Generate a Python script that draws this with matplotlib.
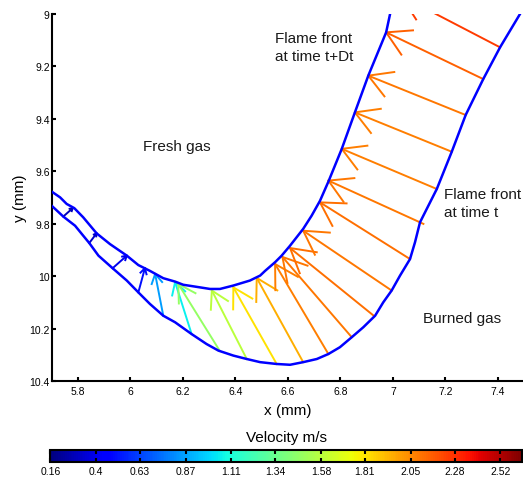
import numpy as np
import matplotlib
matplotlib.use('Agg')
import matplotlib.pyplot as plt
from matplotlib import cm, colors

plt.rcParams['font.family'] = ['Liberation Sans', 'DejaVu Sans']

# Frente de llama en t (curva exterior, lado gas quemado)
front_t_x = [5.700, 5.744, 5.789, 5.820, 5.843, 5.878, 5.932, 5.986, 6.030, 6.074,
             6.125, 6.170, 6.233, 6.290, 6.335, 6.392, 6.443, 6.494, 6.557, 6.608,
             6.658, 6.710, 6.754, 6.798, 6.843, 6.887, 6.932, 6.963, 6.995, 7.027,
             7.065, 7.084, 7.103, 7.167, 7.224, 7.277, 7.344, 7.408, 7.484, 7.52]
front_t_y = [9.731, 9.772, 9.807, 9.845, 9.873, 9.921, 9.969, 10.016, 10.061, 10.105,
             10.150, 10.175, 10.220, 10.258, 10.283, 10.302, 10.315, 10.327, 10.334, 10.337,
             10.327, 10.315, 10.296, 10.270, 10.232, 10.194, 10.150, 10.099, 10.054, 9.997,
             9.934, 9.870, 9.794, 9.667, 9.525, 9.385, 9.248, 9.127, 9.000, 8.93]

# Frente de llama en t+Dt (curva interior, lado gas fresco)
front_dt_x = [5.700, 5.732, 5.757, 5.786, 5.820, 5.871, 5.922, 5.986, 6.030, 6.074,
              6.125, 6.170, 6.201, 6.265, 6.303, 6.341, 6.392, 6.455, 6.494, 6.513,
              6.551, 6.576, 6.608, 6.633, 6.658, 6.690, 6.722, 6.754, 6.805, 6.855,
              6.906, 6.974, 6.989, 7.01]
front_dt_y = [9.677, 9.699, 9.724, 9.740, 9.775, 9.836, 9.877, 9.921, 9.957, 9.979,
              10.007, 10.020, 10.032, 10.042, 10.048, 10.048, 10.035, 10.016, 9.997, 9.979,
              9.946, 9.921, 9.883, 9.851, 9.819, 9.769, 9.712, 9.639, 9.514, 9.375,
              9.235, 9.070, 9.000, 8.93]

# Flechas de desplazamiento: origen (t) -> destino (t+Dt)
arrow_x0 = [5.744, 5.843, 5.932, 6.030, 6.125, 6.233, 6.339, 6.443, 6.557, 6.658,
            6.754, 6.843, 6.928, 6.995, 7.065, 7.116, 7.167, 7.224, 7.277, 7.344, 7.408]
arrow_y0 = [9.772, 9.873, 9.969, 10.061, 10.150, 10.220, 10.282, 10.315, 10.334, 10.327,
            10.296, 10.232, 10.151, 10.054, 9.934, 9.800, 9.667, 9.525, 9.385, 9.248, 9.127]
arrow_x1 = [5.780, 5.871, 5.986, 6.055, 6.094, 6.170, 6.182, 6.310, 6.392, 6.481,
            6.551, 6.579, 6.608, 6.658, 6.722, 6.754, 6.805, 6.855, 6.906, 6.974, 7.031]
arrow_y1 = [9.740, 9.836, 9.921, 9.969, 9.991, 10.022, 10.029, 10.054, 10.042, 10.006,
            9.953, 9.926, 9.892, 9.826, 9.718, 9.635, 9.514, 9.375, 9.235, 9.070, 8.931]
velocity = [0.28, 0.32, 0.40, 0.50, 0.85, 1.05, 1.47, 1.58, 1.82, 1.95,
            2.08, 2.10, 2.12, 2.10, 2.12, 2.10, 2.08, 2.08, 2.10, 2.15, 2.25]

xticks = [5.8, 6.0, 6.2, 6.4, 6.6, 6.8, 7.0, 7.2, 7.4]
xtick_labels = ['5.8', '6', '6.2', '6.4', '6.6', '6.8', '7', '7.2', '7.4']
yticks = [9.0, 9.2, 9.4, 9.6, 9.8, 10.0, 10.2, 10.4]
ytick_labels = ['9', '9.2', '9.4', '9.6', '9.8', '10', '10.2', '10.4']
cbar_ticks = [0.16, 0.4, 0.63, 0.87, 1.11, 1.34, 1.58, 1.81, 2.05, 2.28, 2.52]
cbar_labels = ['0.16', '0.4', '0.63', '0.87', '1.11', '1.34', '1.58', '1.81', '2.05', '2.28', '2.52']
v_min, v_max = 0.16, 2.632

cmap = plt.get_cmap('jet')
norm = colors.Normalize(vmin=v_min, vmax=v_max)


# Dibuja una flecha con punta abierta (estilo quiver)
def draw_arrow(ax, x0, y0, x1, y1, color):
    dx, dy = x1 - x0, y1 - y0
    length = np.hypot(dx, dy)
    ang = np.arctan2(dy, dx) + np.pi
    h = 0.25 * length
    a1 = ang + np.pi / 6
    a2 = ang - np.pi / 6
    ax.plot([x0, x1], [y0, y1], color=color, lw=1.4)
    ax.plot([x1 + h * np.cos(a1), x1, x1 + h * np.cos(a2)],
            [y1 + h * np.sin(a1), y1, y1 + h * np.sin(a2)], color=color, lw=1.4)


fig = plt.figure(figsize=(5.23, 4.81), dpi=100)
ax = fig.add_axes([0.0989, 0.2052, 0.9034, 0.7636])

for i in range(len(velocity)):
    draw_arrow(ax, arrow_x0[i], arrow_y0[i], arrow_x1[i], arrow_y1[i], cmap(norm(velocity[i])))

ax.plot(front_t_x, front_t_y, color='#0000ff', lw=1.8, zorder=3)
ax.plot(front_dt_x, front_dt_y, color='#0000ff', lw=1.8, zorder=3)

ax.set_xlim(5.7, 7.5)
ax.set_ylim(10.4, 9.0)
ax.set_xticks(xticks)
ax.set_xticklabels(xtick_labels)
ax.set_yticks(yticks)
ax.set_yticklabels(ytick_labels)
ax.spines['top'].set_visible(False)
ax.spines['right'].set_visible(False)
ax.spines['left'].set_linewidth(1.5)
ax.spines['bottom'].set_linewidth(1.5)
ax.tick_params(direction='in', length=3, width=1.5, labelsize=7.5)
ax.tick_params(axis='x', pad=3.5)
ax.tick_params(axis='y', pad=1.5)

ax.set_xlabel('x (mm)', fontsize=11)
ax.xaxis.set_label_coords(0.5, -0.0773)
ax.xaxis.label.set_va('center')
ax.set_ylabel('y (mm)', fontsize=11)
ax.yaxis.set_label_coords(-0.067, 0.5)
ax.yaxis.label.set_va('center')

txt = '#1a1a1a'
ax.text(6.047, 9.503, 'Fresh gas', fontsize=11, color=txt, va='center')
ax.text(6.551, 9.127, 'Flame front\nat time t+Dt', fontsize=11, color=txt, va='center', linespacing=1.35)
ax.text(7.194, 9.721, 'Flame front\nat time t', fontsize=11, color=txt, va='center', linespacing=1.35)
ax.text(7.113, 10.16, 'Burned gas', fontsize=11, color=txt, va='center')

# Barra de color
cax = fig.add_axes([0.0962, 0.0368, 0.9013, 0.0262])
sm = cm.ScalarMappable(norm=norm, cmap=cmap)
cb = fig.colorbar(sm, cax=cax, orientation='horizontal', ticks=cbar_ticks)
cb.ax.set_xticklabels(cbar_labels)
cb.outline.set_linewidth(1.5)
cax.tick_params(direction='in', top=True, length=3, width=1.5, labelsize=7.5, pad=3)
fig.text(0.547, 0.0894, 'Velocity m/s', ha='center', va='center', fontsize=11)

fig.savefig('out.png', dpi=100)
